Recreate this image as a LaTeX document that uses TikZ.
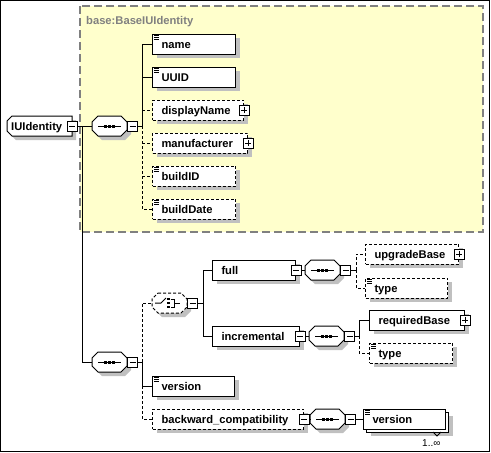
\documentclass[tikz,border=0pt]{standalone}
\usepackage{fontspec}
\setmainfont{Liberation Sans}
\usetikzlibrary{shadows}
\definecolor{yellowc}{HTML}{FFFFCC}
\definecolor{shadowc}{HTML}{C0C0C0}
\definecolor{grayc}{HTML}{808080}
\tikzset{
  elemns/.style={draw, fill=white, line width=1pt, anchor=west, minimum height=20pt,
    inner ysep=0pt, inner xsep=9pt, text width=#1, align=left, text height=9pt, text depth=1pt,
    font=\bfseries\fontsize{11.2}{13}\selectfont},
  elem/.style={elemns=#1, general shadow={fill=shadowc, shadow xshift=4pt, shadow yshift=-4pt}},
  opt/.style={dash pattern=on 3pt off 2pt},
  wire/.style={line width=1pt},
  pbox/.style={draw, fill=white, line width=1pt, minimum size=10pt, inner sep=0pt},
  iconline/.style={line width=0.8pt},
}
\newcommand\elicon[1]{\foreach \ii in {2,4,6}{\draw[iconline] ([shift={(2,\ii)}]#1.north west) -- ++(5,0);}}
\newcommand\minusbox[3][]{\node[pbox,#1] (#2) at (#3) {};
  \draw[line width=1pt] ([xshift=-3pt]#2.center) -- ([xshift=3pt]#2.center);}
\newcommand\plusbox[2]{\node[pbox] (#1) at (#2) {};
  \draw[line width=1pt] ([xshift=-3pt]#1.center) -- ([xshift=3pt]#1.center)
    ([yshift=-3pt]#1.center) -- ([yshift=3pt]#1.center);}
\newcommand\seqshape[3]{%
  \node[inner sep=0pt, minimum width=35pt, minimum height=20pt, anchor=west] (#1) at (#2,#3) {};
  \begin{scope}[shift={(#2,#3)}]
    \fill[shadowc] (10,-6) -- (33,-6) -- (39,0) -- (39,8) -- (33,14) -- (10,14) -- (4,8) -- (4,0) -- cycle;
    \filldraw[fill=white, line width=1pt] (6,-10) -- (29,-10) -- (35,-4) -- (35,4) -- (29,10) -- (6,10) -- (0,4) -- (0,-4) -- cycle;
    \draw[line width=1pt] (6,0) -- (29,0);
    \foreach \dd in {-4,0,4}{\fill (17.5+\dd-1.5,-1.5) rectangle (17.5+\dd+1.5,1.5);}
  \end{scope}}
\newcommand\choiceshape[3]{%
  \node[inner sep=0pt, minimum width=35pt, minimum height=20pt, anchor=west] (#1) at (#2,#3) {};
  \begin{scope}[shift={(#2,#3)}]
    \fill[shadowc] (10,-6) -- (33,-6) -- (39,0) -- (39,8) -- (33,14) -- (10,14) -- (4,8) -- (4,0) -- cycle;
    \filldraw[fill=white, line width=1pt, opt] (6,-10) -- (29,-10) -- (35,-4) -- (35,4) -- (29,10) -- (6,10) -- (0,4) -- (0,-4) -- cycle;
    \draw[line width=1pt] (3,0) -- (9,0) -- (14,-5);
    \foreach \dd in {-4,0,4}{\fill (15.2,\dd-1.3) rectangle (17.8,\dd+1.3);}
    \draw[line width=1pt] (18.5,-4) -- (22,-4) -- (22,4) -- (18.5,4) (22,0) -- (28,0);
  \end{scope}}
\begin{document}
\begin{tikzpicture}[x=1pt,y=-1pt]
\useasboundingbox (0,0) rectangle (491,453);
\draw[line width=1.2pt] (0.6,0.6) rectangle (489.6,451.4);
% base type area
\filldraw[fill=yellowc, draw=grayc, line width=1.3pt, dash pattern=on 8pt off 4pt] (80,6) rectangle (483,232);
\node[anchor=base west, inner sep=0pt, text=grayc, font=\bfseries\fontsize{11.2}{13}\selectfont] (baselbl) at (86,24) {base:BaseIUIdentity};
% root element
\fill[shadowc] (16,120) -- (76,120) -- (76,140) -- (16,140) -- (11,135) -- (11,125) -- cycle;
\filldraw[fill=white, line width=1pt] (12,116) -- (72,116) -- (72,136) -- (12,136) -- (7,131) -- (7,121) -- cycle;
\node[anchor=west, inner ysep=0pt, inner xsep=4pt, minimum height=20pt, text width=57pt, align=left,
  text height=9pt, text depth=1pt, font=\bfseries\fontsize{11.2}{13}\selectfont] (root) at (7,126) {IUIdentity};
\minusbox{m0}{root.east}
% first sequence
\seqshape{seq1}{92}{126}
\minusbox[anchor=west]{m1}{seq1.east}
\node[elem=65pt] (name) at (152,44) {name}; \elicon{name}
\node[elem=65pt] (uuid) at (152,77) {UUID}; \elicon{uuid}
\node[elem=73pt, opt] (dispname) at (152,110) {displayName}; \plusbox{p1}{dispname.east}
\node[elem=77pt, opt] (manuf) at (152,143) {manufacturer}; \plusbox{p2}{manuf.east}
\node[elem=65pt, opt] (buildid) at (152,176) {buildID}; \elicon{buildid}
\node[elem=65pt, opt] (builddate) at (152,209) {buildDate}; \elicon{builddate}
% second sequence
\seqshape{seq2}{92}{362}
\minusbox[anchor=west]{m2}{seq2.east}
\choiceshape{choice}{152}{303}
\minusbox[anchor=west]{mc}{choice.east}
\node[elem=65pt] (full) at (212,270) {full}; \minusbox{mf}{full.east}
\node[elem=69pt] (incr) at (212,336) {incremental}; \minusbox{mi}{incr.east}
\seqshape{seq3}{305}{270}
\minusbox[anchor=west]{m3}{seq3.east}
\node[elem=75pt, opt] (upg) at (365,254) {upgradeBase}; \plusbox{p3}{upg.east}
\node[elem=64pt, opt] (type1) at (365,288) {type}; \elicon{type1}
\seqshape{seq4}{309}{336}
\minusbox[anchor=west]{m4}{seq4.east}
\node[elem=77pt] (reqb) at (369,320) {requiredBase}; \plusbox{p4}{reqb.east}
\node[elem=65pt, opt] (type2) at (369,353) {type}; \elicon{type2}
\node[elem=64pt] (ver1) at (152,386) {version}; \elicon{ver1}
\node[elem=133pt, opt] (bwc) at (152,419) {backward\_compatibility}; \minusbox{mb}{bwc.east}
\seqshape{seq5}{310}{419}
\minusbox[anchor=west]{m5}{seq5.east}
\node[elem=64pt] (ver2b) at (366,422) {};
\node[elemns=64pt] (ver2) at (363,419) {version}; \elicon{ver2}
\draw[line width=1pt] (433,432) -- (437,436) -- (441,432);
\node[anchor=base west, inner sep=0pt, font=\fontsize{10}{12}\selectfont] (occ) at (422,446) {1..∞};
% connectors
\coordinate (j1) at (82,126);
\draw[wire] (m0.east) -- (seq1.west);
\draw[wire] (j1) |- (seq2.west);
\coordinate (b1) at (142,126);
\draw[wire] (m1.east) -- (b1);
\draw[wire] (b1) |- (name.west);
\draw[wire] (b1 |- uuid.west) -- (uuid.west);
\draw[wire, opt] (b1 |- dispname.west) -- (dispname.west);
\draw[wire, opt] (b1) |- (builddate.west);
\draw[wire, opt] (b1 |- manuf.west) -- (manuf.west);
\draw[wire, opt] (b1 |- buildid.west) -- (buildid.west);
\coordinate (b2) at (142,362);
\draw[wire] (m2.east) -- (b2);
\draw[wire, opt] (b2) |- (choice.west);
\draw[wire] (b2) |- (ver1.west);
\draw[wire, opt] (b2 |- ver1.west) |- (bwc.west);
\coordinate (b3) at (203,303);
\draw[wire] (mc.east) -- (b3);
\draw[wire] (b3) |- (full.west);
\draw[wire] (b3) |- (incr.west);
\draw[wire] (mf.east) -- (seq3.west);
\coordinate (b4) at (356,270);
\draw[wire] (m3.east) -- (b4);
\draw[wire, opt] (b4) |- (upg.west);
\draw[wire, opt] (b4) |- (type1.west);
\draw[wire] (mi.east) -- (seq4.west);
\coordinate (b5) at (359,336);
\draw[wire] (m4.east) -- (b5);
\draw[wire] (b5) |- (reqb.west);
\draw[wire, opt] (b5) |- (type2.west);
\draw[wire] (mb.east) -- (seq5.west);
\draw[wire] (m5.east) -- (ver2.west);
\end{tikzpicture}
\end{document}
